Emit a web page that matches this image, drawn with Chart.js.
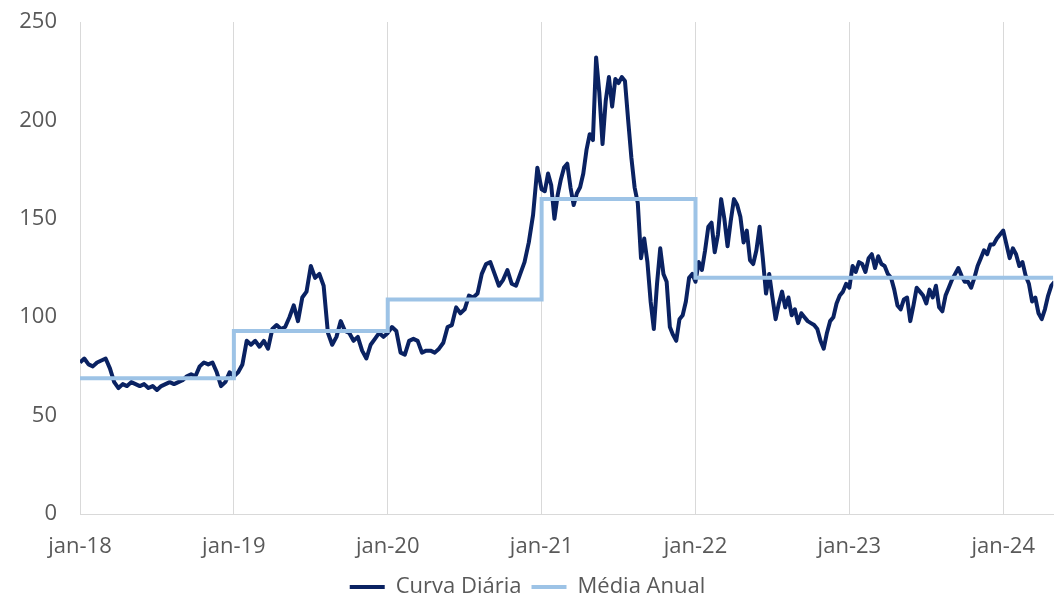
<!DOCTYPE html>
<html>
<head>
<meta charset="utf-8">
<script src="https://cdn.jsdelivr.net/npm/chart.js@4.4.1/dist/chart.umd.min.js"></script>
<style>
    html, body { margin: 0; padding: 0; background: #ffffff; }
</style>
</head>
<body>
<canvas id="chartCurva" width="1055" height="599"></canvas>
<script>
// Tick labels and positions (months since jan-18)
const yearLabels = ['jan-18', 'jan-19', 'jan-20', 'jan-21', 'jan-22', 'jan-23', 'jan-24'];
const yearStarts = [0, 12, 24, 36, 48, 60, 72];
const lastMonth = 75.9;

// Curva diária, sampled evenly inside each year
const samplesPerYear = [36, 36, 36, 48, 48, 48, 48];
const curva2018 = [77, 79, 76, 75, 77, 78, 79, 74, 67, 64, 66, 65, 67, 66, 65, 66, 64, 65,
                   63, 65, 66, 67, 66, 67, 68, 70, 71, 70, 75, 77, 76, 77, 72, 65, 67, 72];
const curva2019 = [70, 72, 76, 88, 86, 88, 85, 88, 84, 94, 96, 94, 95, 100, 106, 98, 110, 113,
                   126, 120, 122, 116, 92, 86, 90, 98, 93, 92, 88, 90, 83, 79, 86, 89, 92, 90];
const curva2020 = [92, 95, 93, 82, 81, 88, 89, 88, 82, 83, 83, 82, 84, 87, 95, 96, 105, 102,
                   104, 111, 110, 112, 122, 127, 128, 122, 116, 119, 124, 117, 116, 122, 128, 138, 152, 176];
const curva2021 = [165, 164, 173, 167, 150, 162, 170, 176, 178, 166, 157, 163, 166, 173, 185, 193,
                   190, 232, 214, 188, 210, 222, 207, 221, 219, 222, 220, 200, 181, 166, 158, 130,
                   140, 128, 108, 94, 117, 135, 122, 118, 95, 91, 88, 99, 101, 108, 120, 122];
const curva2022 = [118, 128, 124, 134, 146, 148, 133, 142, 160, 150, 136, 149, 160, 157, 151, 138,
                   144, 129, 127, 134, 146, 130, 112, 122, 110, 99, 107, 113, 105, 110, 101, 104,
                   97, 102, 100, 98, 97, 96, 94, 88, 84, 92, 98, 100, 107, 111, 113, 117];
const curva2023 = [115, 126, 123, 128, 127, 123, 130, 132, 125, 131, 127, 126, 122, 120, 114, 106,
                   104, 109, 110, 98, 106, 115, 113, 111, 107, 114, 110, 116, 105, 103, 111, 115,
                   119, 122, 125, 121, 118, 118, 115, 120, 126, 130, 134, 132, 137, 137, 140, 142];
const curva2024 = [144, 137, 130, 135, 132, 126, 128, 121, 117, 108, 110, 102, 99, 104, 111, 116, 118];

// Média anual
const mediaAnual = [69, 93, 109, 160, 120, 120, 120];

const curvaAnos = [curva2018, curva2019, curva2020, curva2021, curva2022, curva2023, curva2024];

const curvaPoints = [];
curvaAnos.forEach(function (values, k) {
    values.forEach(function (v, i) {
        curvaPoints.push({ x: yearStarts[k] + i * 12 / samplesPerYear[k], y: v });
    });
});

const mediaPoints = mediaAnual.map(function (v, k) {
    return { x: yearStarts[k], y: v };
});
mediaPoints.push({ x: lastMonth, y: mediaAnual[mediaAnual.length - 1] });

const textColor = '#595959';
const gridColor = '#D9D9D9';
const fontFamily = "'Open Sans', 'Noto Sans', sans-serif";

const ctx = document.getElementById('chartCurva').getContext('2d');
const chart = new Chart(ctx, {
    type: 'line',
    data: {
        datasets: [{
            label: 'Curva Diária',
            data: curvaPoints,
            borderColor: '#0A2262',
            backgroundColor: '#0A2262',
            borderWidth: 4,
            pointRadius: 0,
            tension: 0,
            borderJoinStyle: 'round',
            order: 2
        }, {
            label: 'Média Anual',
            data: mediaPoints,
            borderColor: '#9DC3E6',
            backgroundColor: '#9DC3E6',
            borderWidth: 4,
            pointRadius: 0,
            stepped: true,
            order: 1
        }]
    },
    options: {
        responsive: false,
        animation: false,
        devicePixelRatio: 1,
        layout: {
            autoPadding: false,
            padding: { top: 22, right: 0, bottom: -9, left: 0 }
        },
        plugins: {
            legend: {
                position: 'bottom',
                labels: {
                    usePointStyle: true,
                    pointStyle: 'line',
                    pointStyleWidth: 35,
                    color: textColor,
                    font: { family: fontFamily, size: 22 },
                    padding: 10,
                    sort: function (a, b) { return a.datasetIndex - b.datasetIndex; }
                }
            },
            tooltip: { enabled: false }
        },
        scales: {
            x: {
                type: 'linear',
                min: 0,
                max: lastMonth,
                afterBuildTicks: function (scale) {
                    scale.ticks = yearStarts.map(function (v) { return { value: v }; });
                },
                afterFit: function (scale) { scale.height = 52; },
                ticks: {
                    autoSkip: false,
                    maxRotation: 0,
                    padding: 20,
                    color: textColor,
                    font: { family: fontFamily, size: 22 },
                    callback: function (value) {
                        return yearLabels[yearStarts.indexOf(value)];
                    }
                },
                grid: { color: gridColor, lineWidth: 1, drawTicks: false },
                border: { color: gridColor, width: 1 }
            },
            y: {
                min: 0,
                max: 250,
                afterFit: function (scale) {
                    scale.width = 80;
                    scale.paddingTop = 0;
                    scale.paddingBottom = 0;
                },
                ticks: {
                    stepSize: 50,
                    padding: 23,
                    color: textColor,
                    font: { family: fontFamily, size: 22 }
                },
                grid: { display: false, drawTicks: false },
                border: { display: true, color: gridColor, width: 1 }
            }
        }
    }
});
</script>
</body>
</html>
